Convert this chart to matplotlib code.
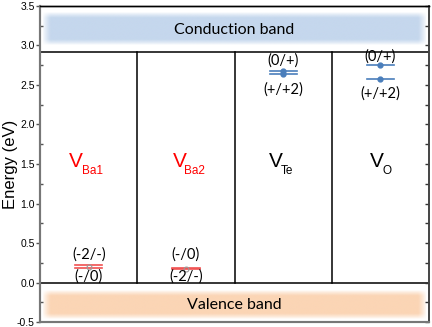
import numpy as np
import matplotlib.pyplot as plt

plt.rcParams['font.family'] = ['Liberation Sans', 'DejaVu Sans']

defects = ['Ba1', 'Ba2', 'Te', 'O']
defect_colors = ['#ff0000', '#ff0000', '#000000', '#000000']
level_hi = [0.22, 0.185, 2.68, 2.75]
level_lo = [0.178, 0.17, 2.64, 2.57]
label_hi = ['(-2/-)', '(-/0)', '(0/+)', '(0/+)']
label_lo = ['(-/0)', '(-2/-)', '(+/+2)', '(+/+2)']
label_hi_y = [0.36, 0.35, 2.81, 2.86]
label_lo_y = [0.07, 0.07, 2.44, 2.39]
line_colors = ['#f05050', '#f05050', '#4a7ebb', '#4a7ebb']
cbm = 2.92
vbm = 0.0

# where the big "V" and its subscript sit in each column
v_x = [0.37, 1.44, 2.42, 3.46]
sub_x = [0.435, 1.48, 2.48, 3.525]


def soft_band(ax, x0, x1, y0, y1, color, soft=0.07):
    xs = np.linspace(x0, x1, 400)
    ys = np.linspace(y0, y1, 120)
    dx = np.minimum(xs - x0, x1 - xs)
    dy = np.minimum(ys - y0, y1 - ys)
    fx = np.clip(dx / (soft * 1.2), 0, 1)
    fy = np.clip(dy / soft, 0, 1)
    a = np.outer(fy, fx) ** 0.8
    rgba = np.zeros((len(ys), len(xs), 4))
    rgba[..., :3] = plt.matplotlib.colors.to_rgb(color)
    rgba[..., 3] = a
    ax.imshow(rgba, extent=(x0, x1, y0, y1), origin='lower', aspect='auto',
              interpolation='bilinear', zorder=1)


fig = plt.figure(figsize=(4.32, 3.27), dpi=100)
ax = fig.add_axes([0.093, 0.015, 0.9, 0.967])

soft_band(ax, 0.02, 3.98, 3.0, 3.41, '#c5d7ed')
soft_band(ax, 0.02, 3.98, -0.46, -0.1, '#fbd5b5')
ax.text(2.0, 3.19, 'Conduction band', ha='center', va='center', fontsize=11.5,
        family='Lato', zorder=3)
ax.text(2.0, -0.29, 'Valence band', ha='center', va='center', fontsize=11.5,
        family='Lato', zorder=3)

ax.axhline(cbm, color='black', lw=1.1, zorder=2)
ax.axhline(vbm, color='black', lw=1.1, zorder=2)
for xd in [1, 2, 3]:
    ax.plot([xd, xd], [vbm, cbm], color='black', lw=1.1, zorder=2)

for i, name in enumerate(defects):
    xc = i + 0.5
    ax.text(v_x[i], 1.46, 'V', color=defect_colors[i], fontsize=15,
            ha='center', va='baseline')
    ax.text(sub_x[i], 1.37, name, color=defect_colors[i], fontsize=8.5,
            ha='left', va='baseline')
    for lv in [level_hi[i], level_lo[i]]:
        ax.plot([xc - 0.14, xc + 0.14], [lv, lv], color=line_colors[i], lw=1.2, zorder=3)
    if i < 2:
        ax.plot(xc, (level_hi[i] + level_lo[i]) / 2, 'o', ms=3.5, mfc='none',
                mec='#999999', mew=0.8, zorder=4)
    else:
        ax.plot([xc, xc], [level_hi[i], level_lo[i]], 'o', ms=3.5,
                color=line_colors[i], ls='none', zorder=4)
    ax.text(xc, label_hi_y[i], label_hi[i], ha='center', va='center', fontsize=10.5,
            family='Lato', zorder=4)
    ax.text(xc, label_lo_y[i], label_lo[i], ha='center', va='center', fontsize=10.5,
            family='Lato', zorder=4)

ax.set_xlim(0, 4)
ax.set_ylim(-0.5, 3.5)
ax.set_xticks([])
ax.set_yticks(np.arange(-0.5, 3.51, 0.5))
ax.set_yticks(np.arange(-0.25, 3.5, 0.5), minor=True)
ax.set_yticklabels([f'{v:.1f}' for v in np.arange(-0.5, 3.51, 0.5)])
ax.tick_params(axis='y', which='major', direction='out', length=3, width=1,
               labelsize=7.5, pad=1, color='#555555')
ax.tick_params(axis='y', which='minor', direction='in', length=2, width=1, color='#555555')
ax.set_ylabel('Energy (eV)', fontsize=12)
ax.yaxis.set_label_coords(-0.056, 0.5)

ax2 = ax.twinx()
ax2.set_ylim(-0.5, 3.5)
ax2.set_yticks(np.arange(-0.5, 3.51, 0.5))
ax2.set_yticks(np.arange(-0.25, 3.5, 0.5), minor=True)
ax2.tick_params(axis='y', which='both', direction='in', length=3, width=1,
                labelright=False, color='#333333')

for a in [ax, ax2]:
    a.spines['left'].set_color('#777777')
    a.spines['left'].set_linewidth(1.5)
    a.spines['bottom'].set_color('#777777')
    a.spines['bottom'].set_linewidth(1.5)
    a.spines['right'].set_color('#444444')
    a.spines['right'].set_linewidth(1.2)
    a.spines['top'].set_linewidth(1.0)

fig.savefig('out.png', dpi=100)
